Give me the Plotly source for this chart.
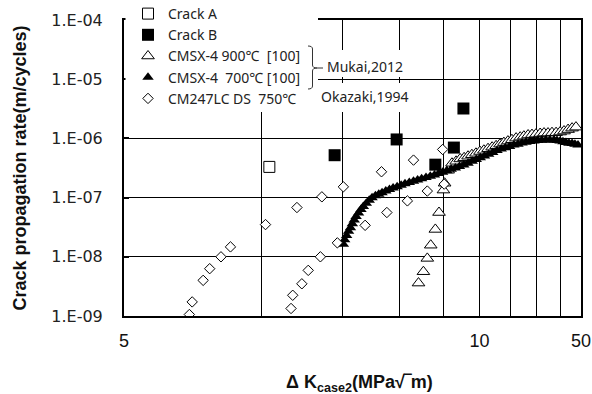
import plotly.graph_objects as go

# ---------------- data ----------------
crack_a_dk = [2.08]
crack_a_rate = [3.3e-7]

crack_b_dk = [2.89, 3.95, 4.80, 5.27, 5.53]
crack_b_rate = [5.2e-7, 9.6e-7, 3.6e-7, 7.0e-7, 3.2e-6]

cmsx900_dk = [4.41, 4.52, 4.61, 4.69, 4.80, 4.89, 5.00, 5.03, 5.12,
              5.22, 5.33, 5.44, 5.55, 5.66, 5.77, 5.89, 6.01, 6.13, 6.26,
              6.39, 6.52, 6.65, 6.78, 6.92, 7.06, 7.21, 7.36, 7.50, 7.66,
              7.81, 7.97, 8.14, 8.30, 8.47, 8.64, 8.82, 9.00, 9.18, 9.37,
              9.56, 9.75]
cmsx900_rate = [3.6e-9, 5.6e-9, 9.4e-9, 1.57e-8, 2.9e-8, 5.6e-8, 1.34e-7, 1.75e-7, 2.9e-7,
                3.8e-7, 4.1e-7, 4.5e-7, 4.7e-7, 5.0e-7, 5.3e-7, 5.6e-7, 6.0e-7, 6.3e-7, 6.7e-7,
                7.1e-7, 7.5e-7, 8.0e-7, 8.5e-7, 9.0e-7, 9.5e-7, 1.01e-6, 1.05e-6, 1.09e-6, 1.14e-6,
                1.16e-6, 1.18e-6, 1.21e-6, 1.23e-6, 1.23e-6, 1.25e-6, 1.25e-6, 1.28e-6, 1.33e-6, 1.41e-6,
                1.49e-6, 1.55e-6]

cmsx700_dk = [3.02, 3.04, 3.07, 3.10, 3.13, 3.16, 3.19, 3.22, 3.26, 3.30,
              3.34, 3.39, 3.44, 3.49, 3.55, 3.61, 3.67, 3.74, 3.81, 3.88,
              3.96, 4.04, 4.12, 4.21, 4.30, 4.39, 4.48, 4.58, 4.68, 4.78,
              4.88, 4.98, 5.09, 5.20, 5.31, 5.42, 5.54, 5.66, 5.78, 5.90,
              6.02, 6.15, 6.28, 6.41, 6.55, 6.69, 6.83, 6.98, 7.13, 7.28,
              7.43, 7.58, 7.73, 7.89, 8.05, 8.21, 8.38, 8.55, 8.73, 8.86,
              9.00, 9.13, 9.27, 9.41, 9.56, 9.70, 9.85]
cmsx700_rate = [1.63e-8, 1.95e-8, 2.3e-8, 2.7e-8, 3.1e-8, 3.6e-8, 4.2e-8, 4.8e-8, 5.5e-8, 6.3e-8,
                7.1e-8, 8.0e-8, 9.0e-8, 9.9e-8, 1.07e-7, 1.14e-7, 1.21e-7, 1.29e-7, 1.37e-7, 1.45e-7,
                1.53e-7, 1.62e-7, 1.71e-7, 1.80e-7, 1.89e-7, 1.98e-7, 2.08e-7, 2.19e-7, 2.30e-7, 2.42e-7,
                2.55e-7, 2.69e-7, 2.84e-7, 3.0e-7, 3.16e-7, 3.35e-7, 3.57e-7, 3.82e-7, 4.10e-7, 4.40e-7,
                4.70e-7, 5.02e-7, 5.40e-7, 5.80e-7, 6.25e-7, 6.65e-7, 6.95e-7, 7.30e-7, 7.70e-7, 8.0e-7,
                8.33e-7, 8.6e-7, 8.83e-7, 9.0e-7, 9.18e-7, 9.3e-7, 9.36e-7, 9.38e-7, 9.36e-7, 9.2e-7,
                9.0e-7, 8.75e-7, 8.49e-7, 8.3e-7, 8.17e-7, 7.95e-7, 7.7e-7]

cm247_dk = [1.39, 1.41, 1.49, 1.54, 1.63, 1.71, 2.04, 2.39, 2.71, 3.02,
            3.66, 4.30, 4.98,
            2.32, 2.34, 2.45, 2.53, 2.69, 2.93, 3.37, 3.76, 4.17, 4.61, 5.02]
cm247_rate = [1.06e-9, 1.73e-9, 4.0e-9, 6.3e-9, 1.0e-8, 1.47e-8, 3.5e-8, 6.8e-8, 1.03e-7, 1.52e-7,
              2.73e-7, 4.3e-7, 6.5e-7,
              1.34e-9, 2.24e-9, 3.5e-9, 5.9e-9, 1.0e-8, 1.72e-8, 3.4e-8, 5.6e-8, 8.8e-8, 1.29e-7, 1.69e-7]

x_tick_vals = [1, 6, 10]
x_tick_text = ["5", "10", "50"]
x_minor_vals = [2, 3, 4, 5, 7, 8, 9]
y_tick_vals = [1e-9, 1e-8, 1e-7, 1e-6, 1e-5, 1e-4]
y_tick_text = ["1.E-09", "1.E-08", "1.E-07", "1.E-06", "1.E-05", "1.E-04"]

# ---------------- layout geometry ----------------
W, H = 592, 394
L, R, T, B = 124, 11, 20, 78
PW, PH = W - L - R, H - T - B


def px(x):
    return (x - L) / PW


def py(y):
    return (H - B - y) / PH


fig = go.Figure()

fig.add_trace(go.Scatter(
    x=cmsx900_dk, y=cmsx900_rate, mode="markers", name="CMSX-4 900℃  [100]",
    legendrank=3,
    marker=dict(symbol="triangle-up", size=11, color="white",
                line=dict(color="black", width=1))))
fig.add_trace(go.Scatter(
    x=cmsx700_dk, y=cmsx700_rate, mode="markers", name="CMSX-4  700℃ [100]",
    legendrank=4,
    marker=dict(symbol="triangle-up", size=10, color="black",
                line=dict(color="black", width=0))))
fig.add_trace(go.Scatter(
    x=cm247_dk, y=cm247_rate, mode="markers", name="CM247LC DS  750℃",
    legendrank=5,
    marker=dict(symbol="diamond", size=8, color="white",
                line=dict(color="black", width=1))))
fig.add_trace(go.Scatter(
    x=crack_a_dk, y=crack_a_rate, mode="markers", name="Crack A",
    legendrank=1,
    marker=dict(symbol="square", size=11, color="white",
                line=dict(color="black", width=1))))
fig.add_trace(go.Scatter(
    x=crack_b_dk, y=crack_b_rate, mode="markers", name="Crack B",
    legendrank=2,
    marker=dict(symbol="square", size=12, color="black",
                line=dict(color="black", width=0))))

shapes = [
    # white boxes behind the legend and the reference labels
    dict(type="rect", xref="paper", yref="paper", layer="above",
         x0=px(125.5), x1=px(318), y0=py(112), y1=py(0),
         fillcolor="white", line=dict(width=0)),
    dict(type="rect", xref="paper", yref="paper", layer="above",
         x0=px(318), x1=px(410), y0=py(77), y1=py(50),
         fillcolor="white", line=dict(width=0)),
    dict(type="rect", xref="paper", yref="paper", layer="above",
         x0=px(316), x1=px(414), y0=py(112), y1=py(83),
         fillcolor="white", line=dict(width=0)),
]
# curly brace
bx0, bx1, bx2 = px(308), px(312.5), px(317)
yt, ym, yb = py(46), py(68), py(89)
d = 3 / PH
brace = (f"M {bx0},{yt} Q {bx1},{yt} {bx1},{yt - d} L {bx1},{ym + d} "
         f"Q {bx1},{ym} {bx2},{ym} Q {bx1},{ym} {bx1},{ym - d} "
         f"L {bx1},{yb + d} Q {bx1},{yb} {bx0},{yb}")
shapes.append(dict(type="path", xref="paper", yref="paper", layer="above",
                   path=brace, line=dict(color="#333", width=1)))
shapes.append(dict(type="line", xref="paper", yref="paper", layer="above",
                   x0=px(317), x1=px(323), y0=py(68), y1=py(68),
                   line=dict(color="#333", width=1)))

annotations = [
    dict(xref="paper", yref="paper", x=px(325), y=py(66), xanchor="left", yanchor="middle",
         text="Mukai,2012", showarrow=False,
         font=dict(family="Noto Sans", size=14, color="#222")),
    dict(xref="paper", yref="paper", x=px(319), y=py(97), xanchor="left", yanchor="middle",
         text="Okazaki,1994", showarrow=False,
         font=dict(family="Noto Sans", size=14, color="#222")),
    dict(xref="paper", yref="paper", x=px(359), y=py(383), xanchor="center", yanchor="middle",
         text="<b>Δ K<sub>case2</sub>(MPa√‾m)</b>", showarrow=False,
         font=dict(family="Liberation Sans", size=18, color="#111")),
]

fig.update_layout(
    width=W, height=H,
    margin=dict(l=L, r=R, t=T, b=B, autoexpand=False),
    paper_bgcolor="white", plot_bgcolor="white",
    showlegend=True,
    legend=dict(x=px(128), y=py(-2), xanchor="left", yanchor="top",
                bgcolor="rgba(0,0,0,0)", borderwidth=0,
                font=dict(family="Noto Sans", size=14, color="#222"),
                itemwidth=30, tracegroupgap=0),
    shapes=shapes,
    annotations=annotations,
    xaxis=dict(type="log", range=[0, 1], tickvals=x_tick_vals, ticktext=x_tick_text,
               showgrid=True, gridcolor="black", gridwidth=1,
               minor=dict(tickvals=x_minor_vals, showgrid=True, gridcolor="black",
                          gridwidth=1, ticks=""),
               showline=True, linecolor="black", linewidth=2, mirror=True,
               ticks="", ticklabelstandoff=7,
               tickfont=dict(family="Liberation Sans", size=18, color="#111"),
               zeroline=False),
    yaxis=dict(type="log", range=[-9, -4], tickvals=y_tick_vals, ticktext=y_tick_text,
               showgrid=True, gridcolor="black", gridwidth=1,
               showline=True, linecolor="black", linewidth=2, mirror=True,
               ticks="inside", ticklen=5, tickwidth=2, tickcolor="black",
               ticklabelstandoff=16,
               tickfont=dict(family="DejaVu Sans", size=16, color="#222"),
               title=dict(text="<b>Crack propagation rate(m/cycles)</b>",
                          font=dict(family="Liberation Sans", size=18, color="#111"),
                          standoff=20),
               zeroline=False),
)

fig.write_html("out.html")
